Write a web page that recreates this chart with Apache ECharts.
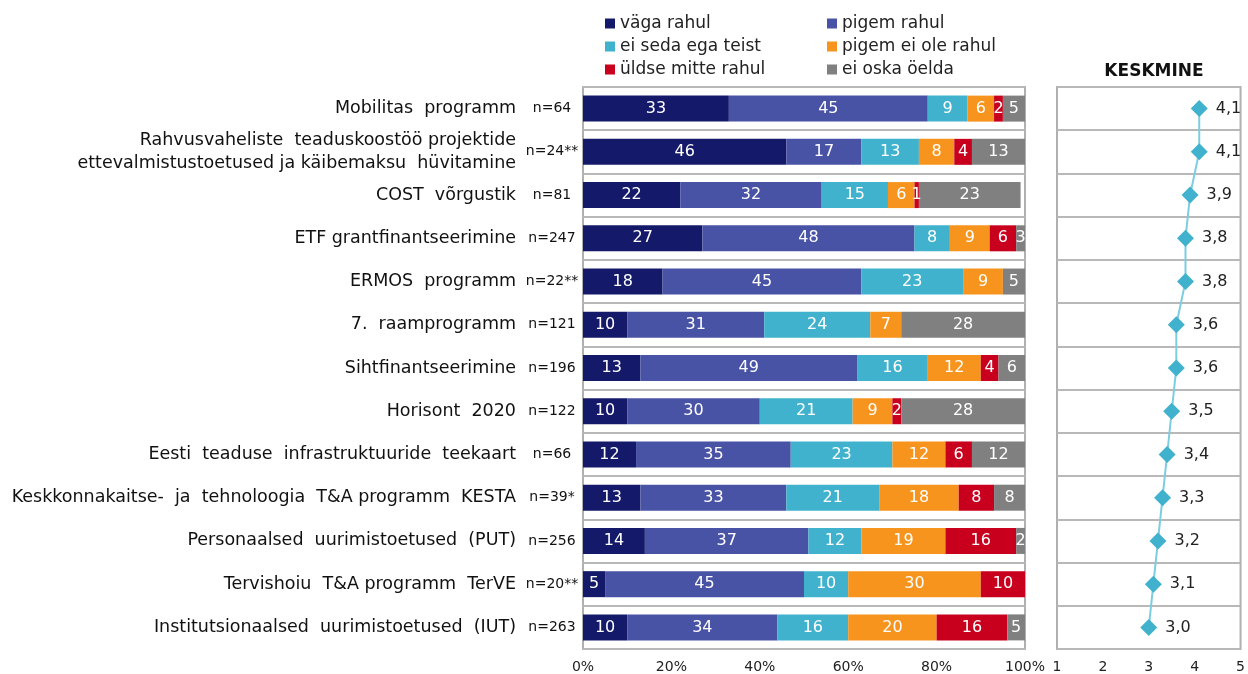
<!DOCTYPE html>
<html>
<head>
  <meta charset="utf-8">
  <style>
    html, body { width: 100%; height: 100%; margin: 0; padding: 0; overflow: hidden; background: #fff; }
    #container { width: 1248px; height: 674px; }
  </style>
</head>
<body>
  <div id="container"></div>
  <script src="https://cdn.jsdelivr.net/npm/echarts@6/dist/echarts.min.js"></script>
  <script>
    // andmed
    var categories = [
      'Mobilitas  programm',
      'Rahvusvaheliste  teaduskoostöö projektide\nettevalmistustoetused ja käibemaksu  hüvitamine',
      'COST  võrgustik',
      'ETF grantfinantseerimine',
      'ERMOS  programm',
      '7.  raamprogramm',
      'Sihtfinantseerimine',
      'Horisont  2020',
      'Eesti  teaduse  infrastruktuuride  teekaart',
      'Keskkonnakaitse-  ja  tehnoloogia  T&A programm  KESTA',
      'Personaalsed  uurimistoetused  (PUT)',
      'Tervishoiu  T&A programm  TerVE',
      'Institutsionaalsed  uurimistoetused  (IUT)'
    ];
    var nLabels = ['n=64', 'n=24**', 'n=81', 'n=247', 'n=22**', 'n=121', 'n=196', 'n=122', 'n=66', 'n=39*', 'n=256', 'n=20**', 'n=263'];

    var vagaRahul = [33, 46, 22, 27, 18, 10, 13, 10, 12, 13, 14, 5, 10];
    var pigemRahul = [45, 17, 32, 48, 45, 31, 49, 30, 35, 33, 37, 45, 34];
    var eiSedaEgaTeist = [9, 13, 15, 8, 23, 24, 16, 21, 23, 21, 12, 10, 16];
    var pigemEiOleRahul = [6, 8, 6, 9, 9, 7, 12, 9, 12, 18, 19, 30, 20];
    var uldseMitteRahul = [2, 4, 1, 6, 0, 0, 4, 2, 6, 8, 16, 10, 16];
    var eiOskaOelda = [5, 13, 23, 3, 5, 28, 6, 28, 12, 8, 2, 0, 5];

    var keskmine = [4.1, 4.1, 3.9, 3.8, 3.8, 3.6, 3.6, 3.5, 3.4, 3.3, 3.2, 3.1, 3.0];

    var seriesNames = ['väga rahul', 'pigem rahul', 'ei seda ega teist', 'pigem ei ole rahul', 'üldse mitte rahul', 'ei oska öelda'];
    var seriesData = [vagaRahul, pigemRahul, eiSedaEgaTeist, pigemEiOleRahul, uldseMitteRahul, eiOskaOelda];
    var colors = ['#141a69', '#4953a5', '#40b2cd', '#f7941e', '#c8001e', '#808080'];

    var font = 'DejaVu Sans, Verdana, sans-serif';
    var gridTop = 87, gridBottom = 24;

    var chart = echarts.init(document.getElementById('container'));

    var barSeries = seriesNames.map(function (name, i) {
      return {
        name: name,
        type: 'bar',
        stack: 'total',
        xAxisIndex: 0,
        yAxisIndex: 0,
        barWidth: 26,
        itemStyle: { color: colors[i] },
        label: {
          show: true,
          color: '#fff',
          fontFamily: font,
          fontSize: 16,
          formatter: function (p) { return p.value ? p.value : ''; }
        },
        data: seriesData[i]
      };
    });

    var legendText = { fontFamily: font, fontSize: 17, color: '#222' };

    chart.setOption({
      animation: false,
      textStyle: { fontFamily: font },
      title: {
        text: 'KESKMINE',
        left: 1149,
        top: 58,
        textAlign: 'center',
        textStyle: { fontFamily: font, fontSize: 17, fontWeight: 'bold', color: '#111' }
      },
      legend: [{
        left: 605,
        top: 15,
        padding: 0,
        orient: 'vertical',
        itemWidth: 10,
        itemHeight: 10,
        itemGap: 6,
        icon: 'rect',
        data: ['väga rahul', 'ei seda ega teist', 'üldse mitte rahul'],
        textStyle: legendText
      }, {
        left: 827,
        top: 15,
        padding: 0,
        orient: 'vertical',
        itemWidth: 10,
        itemHeight: 10,
        itemGap: 6,
        icon: 'rect',
        data: ['pigem rahul', 'pigem ei ole rahul', 'ei oska öelda'],
        textStyle: legendText
      }],
      grid: [
        { left: 583, width: 442, top: gridTop, bottom: gridBottom, show: true, borderColor: '#b0b0b0', borderWidth: 2 },
        { left: 1057, width: 185, top: gridTop, bottom: gridBottom, show: true, borderColor: '#b0b0b0', borderWidth: 2 }
      ],
      xAxis: [{
        gridIndex: 0,
        type: 'value',
        min: 0,
        max: 100,
        interval: 20,
        axisLine: { show: false },
        axisTick: { show: false },
        splitLine: { show: false },
        axisLabel: { formatter: '{value}%', fontSize: 14, color: '#222', margin: 11 }
      }, {
        gridIndex: 1,
        type: 'value',
        min: 1,
        max: 5,
        interval: 1,
        axisLine: { show: false },
        axisTick: { show: false },
        splitLine: { show: false },
        axisLabel: { fontSize: 14, color: '#222', margin: 11 }
      }],
      yAxis: [{
        gridIndex: 0,
        type: 'category',
        inverse: true,
        data: categories,
        axisLine: { show: false },
        axisTick: { show: false },
        splitLine: { show: true, lineStyle: { color: '#b8b8b8', width: 2 } },
        axisLabel: { margin: 67, fontSize: 17.5, color: '#111', lineHeight: 23, align: 'right' }
      }, {
        gridIndex: 0,
        type: 'category',
        position: 'left',
        inverse: true,
        data: nLabels,
        axisLine: { show: false },
        axisTick: { show: false },
        splitLine: { show: false },
        axisLabel: { margin: 31, fontSize: 14, color: '#111', align: 'center' }
      }, {
        gridIndex: 1,
        type: 'category',
        inverse: true,
        data: categories,
        axisLine: { show: false },
        axisTick: { show: false },
        axisLabel: { show: false },
        splitLine: { show: true, lineStyle: { color: '#b8b8b8', width: 2 } }
      }],
      series: barSeries.concat([{
        name: 'keskmine',
        type: 'line',
        xAxisIndex: 1,
        yAxisIndex: 2,
        symbol: 'diamond',
        symbolSize: 17,
        itemStyle: { color: '#40b2cd' },
        lineStyle: { color: '#7dcde0', width: 2 },
        label: {
          show: true,
          position: 'right',
          distance: 8,
          fontSize: 16,
          color: '#222',
          formatter: function (p) { return p.value[0].toFixed(1).replace('.', ','); }
        },
        data: keskmine.map(function (v, i) { return [v, i]; })
      }])
    });
  </script>
</body>
</html>
